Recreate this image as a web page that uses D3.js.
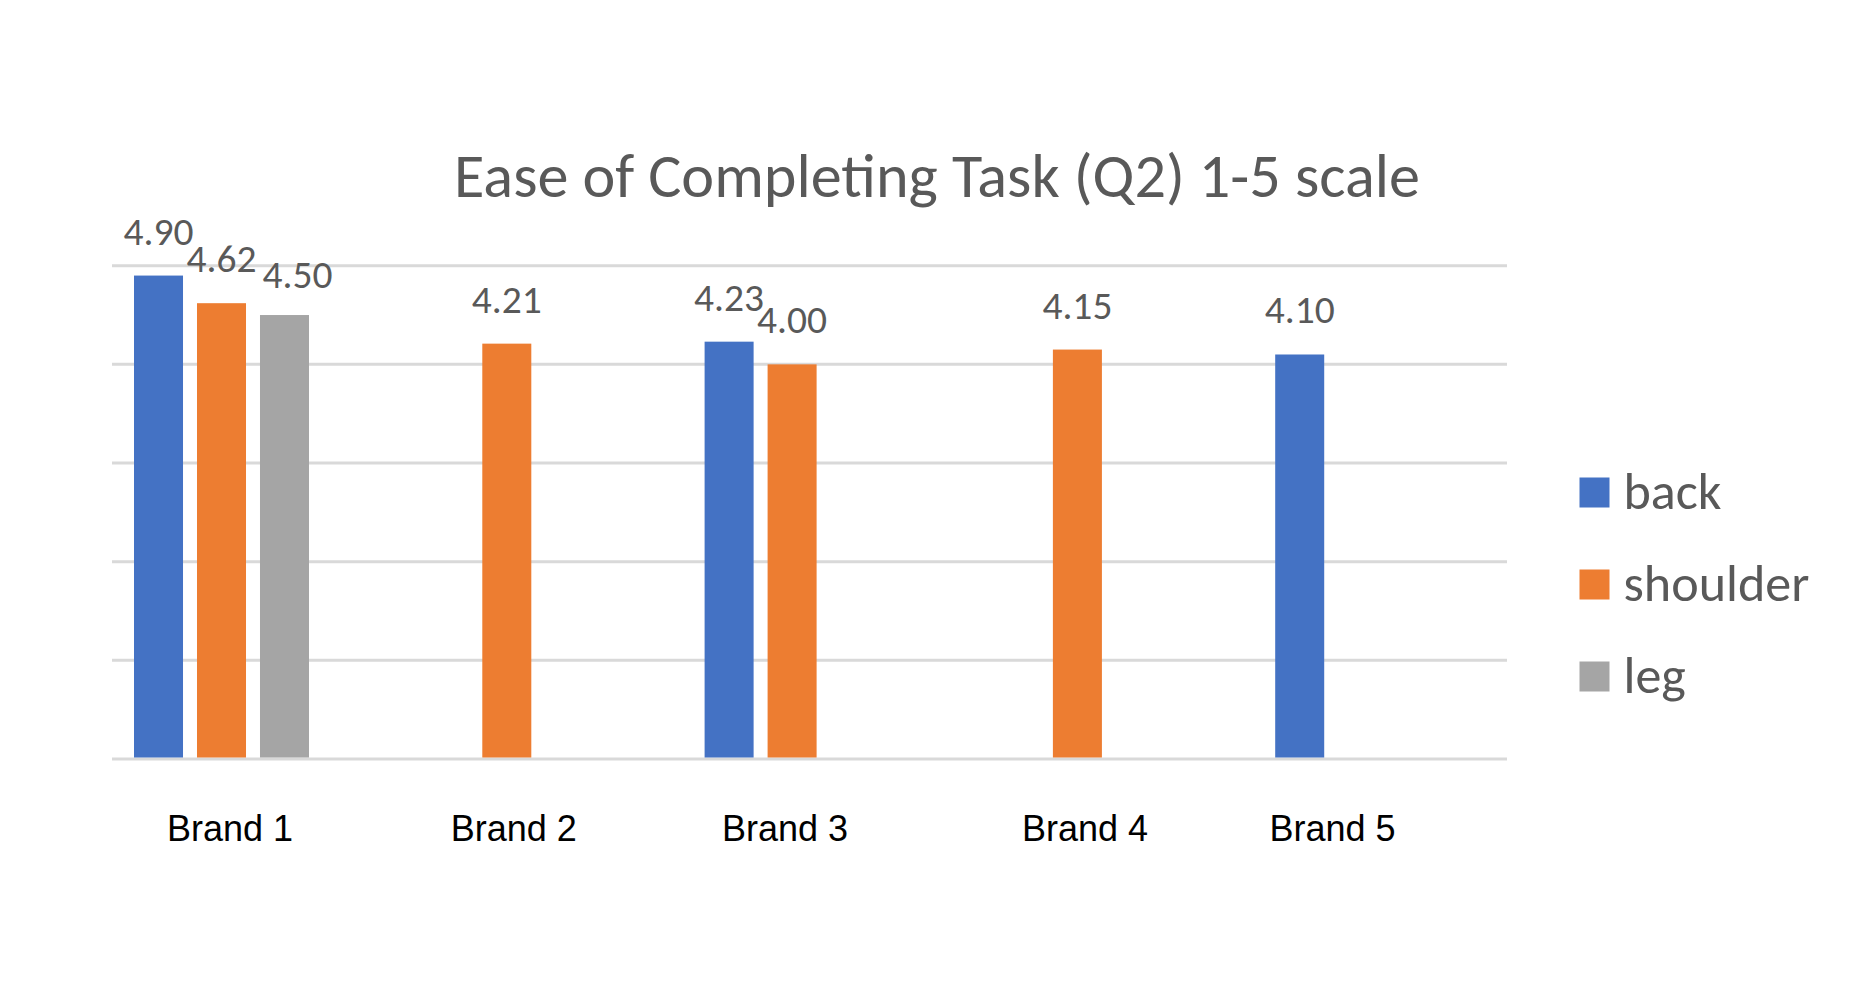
<!DOCTYPE html>
<html>
<head>
<meta charset="utf-8">
<script src="https://cdn.jsdelivr.net/npm/d3@7"></script>
<style>
  html, body { margin: 0; padding: 0; background: #ffffff; }
  svg { display: block; }
</style>
</head>
<body>
<svg id="chart" width="1858" height="993"></svg>
<script>
// ---------- data ----------
const brands = ["Brand 1", "Brand 2", "Brand 3", "Brand 4", "Brand 5"];
const seriesNames = ["back", "shoulder", "leg"];
const backValues = [4.90, null, 4.23, null, 4.10];
const shoulderValues = [4.62, 4.21, 4.00, 4.15, null];
const legValues = [4.50, null, null, null, null];
const yTicks = [0, 1, 2, 3, 4, 5];
const titleText = "Ease of Completing Task (Q2) 1-5 scale";

// ---------- layout / style ----------
const W = 1858, H = 993;
const colors = { back: "#4472C4", shoulder: "#ED7D31", leg: "#A5A5A5" };
const plot = { left: 112, right: 1507, top: 265.7, bottom: 759 };
const clusterStart = 134, clusterStep = 285.3, clusterWidth = 175;
const brandLabelOffsets = [96, 94.4, 80.4, 95.1, 57.3];
const labelNudges = { "Brand 1|leg": [13, 4] };
const valueFont = "Carlito, Calibri, Lato, 'Open Sans', sans-serif";
const textGray = "#595959";

const seriesData = { back: backValues, shoulder: shoulderValues, leg: legValues };

const svg = d3.select("#chart");

const y = d3.scaleLinear().domain([0, 5]).range([plot.bottom, plot.top]);
const x0 = d3.scaleBand().domain(brands)
  .range([clusterStart, clusterStart + clusterStep * brands.length])
  .paddingInner(0).paddingOuter(0);
const x1 = d3.scaleBand().domain(seriesNames).range([0, clusterWidth]).paddingInner(0.222);

// fit helper: scale font-size so the element's text length equals target
function fitSize(sel, base, target) {
  sel.attr("font-size", base);
  const len = sel.node().getComputedTextLength();
  return base * target / len;
}

// gridlines
svg.append("g").selectAll("line").data(yTicks).join("line")
  .attr("x1", plot.left).attr("x2", plot.right)
  .attr("y1", d => y(d)).attr("y2", d => y(d))
  .attr("stroke", "#D9D9D9").attr("stroke-width", 3);

// title
const title = svg.append("text")
  .attr("x", (454 + 1420) / 2).attr("y", 197)
  .attr("text-anchor", "middle")
  .attr("font-family", valueFont)
  .attr("fill", textGray)
  .text(titleText);
title.attr("font-size", fitSize(title, 60, 966));

// bars
const flat = [];
brands.forEach((b, i) => {
  seriesNames.forEach(s => {
    const v = seriesData[s][i];
    if (v !== null && v !== undefined) flat.push({ brand: b, series: s, value: v });
  });
});

svg.append("g").selectAll("rect").data(flat).join("rect")
  .attr("x", d => x0(d.brand) + x1(d.series))
  .attr("width", x1.bandwidth())
  .attr("y", d => y(d.value))
  .attr("height", d => y(0) - y(d.value) - 1.5)
  .attr("fill", d => colors[d.series]);

// value labels
const probe = svg.append("text").attr("font-family", valueFont).text("4.90");
const valueSize = fitSize(probe, 36, 70);
probe.remove();

const nudge = d => labelNudges[d.brand + "|" + d.series] || [0, 0];

svg.append("g").selectAll("text").data(flat).join("text")
  .attr("x", d => x0(d.brand) + x1(d.series) + x1.bandwidth() / 2 + nudge(d)[0])
  .attr("y", d => y(d.value) - 31 + nudge(d)[1])
  .attr("text-anchor", "middle")
  .attr("font-family", valueFont)
  .attr("font-size", valueSize)
  .attr("fill", textGray)
  .text(d => d.value.toFixed(2));

// brand labels (category axis text)
svg.append("g").selectAll("text").data(brands).join("text")
  .attr("x", (d, i) => x0(d) + brandLabelOffsets[i])
  .attr("y", 840.5)
  .attr("text-anchor", "middle")
  .attr("font-family", "'Liberation Sans', Arial, sans-serif")
  .attr("font-size", 36)
  .attr("fill", "#000000")
  .text(d => d);

// legend
const legendY = d3.scalePoint().domain(seriesNames).range([477.5, 661.5]);
const probe2 = svg.append("text").attr("font-family", valueFont).text("shoulder");
const legendSize = fitSize(probe2, 48, 186);
probe2.remove();

const lg = svg.append("g").selectAll("g").data(seriesNames).join("g")
  .attr("transform", d => `translate(1579.5, ${legendY(d)})`);
lg.append("rect").attr("width", 30).attr("height", 30).attr("fill", d => colors[d]);
lg.append("text")
  .attr("x", 44).attr("y", 31)
  .attr("font-family", valueFont)
  .attr("font-size", legendSize)
  .attr("fill", textGray)
  .text(d => d);
</script>
</body>
</html>
